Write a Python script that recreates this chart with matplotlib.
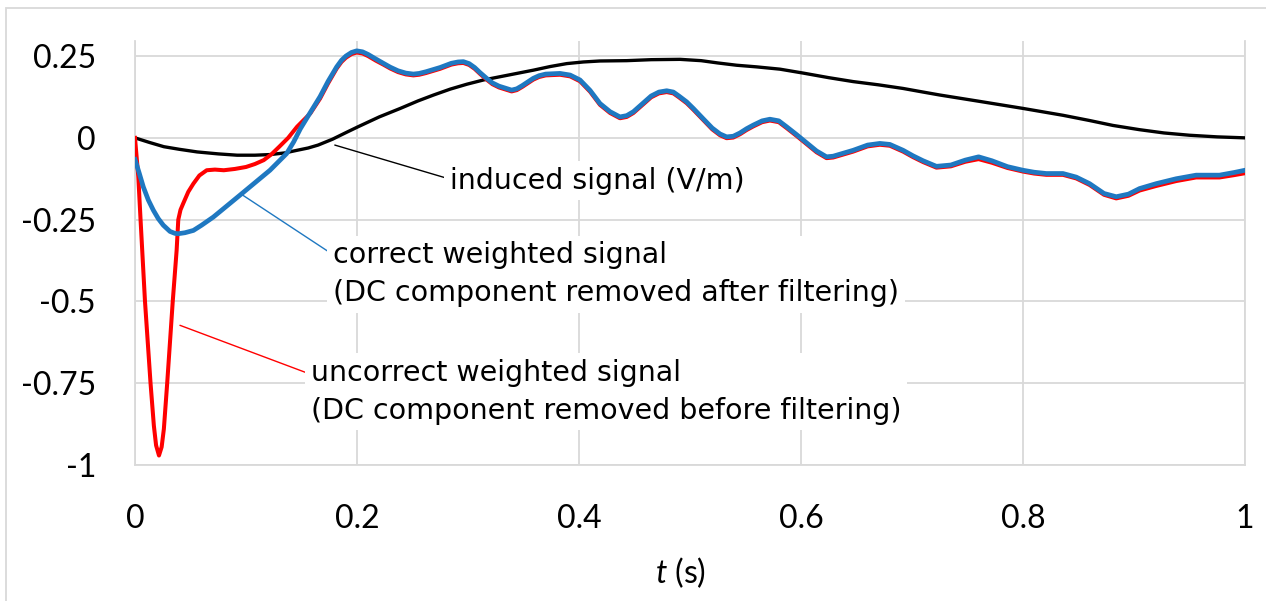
import matplotlib
matplotlib.use("Agg")
import matplotlib.pyplot as plt
from matplotlib.patches import Rectangle
from matplotlib.font_manager import FontProperties

plt.rcParams['mathtext.fontset'] = 'custom'
plt.rcParams['mathtext.it'] = 'Lato:italic'
plt.rcParams['mathtext.rm'] = 'Lato'

# induced signal (V/m)
t_ind = [0, 0.013, 0.026, 0.04, 0.056, 0.075, 0.092, 0.108, 0.122, 0.135, 0.146,
         0.156, 0.165, 0.178, 0.19, 0.201, 0.22, 0.239, 0.255, 0.269, 0.284, 0.299,
         0.314, 0.329, 0.344, 0.359, 0.374, 0.389, 0.404, 0.419, 0.443, 0.465, 0.491,
         0.51, 0.525, 0.542, 0.56, 0.581, 0.602, 0.625, 0.647, 0.67, 0.692, 0.71,
         0.725, 0.76, 0.8, 0.836, 0.86, 0.881, 0.905, 0.927, 0.95, 0.975, 1.0]
y_ind = [0, -0.014, -0.027, -0.035, -0.043, -0.049, -0.053, -0.053, -0.051, -0.046, -0.038,
         -0.031, -0.022, -0.004, 0.016, 0.034, 0.064, 0.09, 0.113, 0.131, 0.149, 0.164,
         0.177, 0.187, 0.197, 0.207, 0.218, 0.227, 0.232, 0.235, 0.236, 0.239, 0.24,
         0.236, 0.229, 0.222, 0.217, 0.21, 0.198, 0.184, 0.172, 0.162, 0.151, 0.14,
         0.131, 0.112, 0.09, 0.069, 0.053, 0.038, 0.025, 0.015, 0.008, 0.003, 0.0]

# correct weighted signal (DC component removed after filtering)
t_cor = [0, 0.004, 0.0075, 0.012, 0.0165, 0.021, 0.0255, 0.0315, 0.036, 0.039, 0.045,
         0.0526, 0.06, 0.0706, 0.0946, 0.1216, 0.1366, 0.143, 0.149, 0.158, 0.1667,
         0.174, 0.1817, 0.186, 0.19, 0.195, 0.1997, 0.205, 0.21, 0.217, 0.2237,
         0.23, 0.237, 0.244, 0.2508, 0.256, 0.262, 0.2748, 0.285, 0.291, 0.2958,
         0.301, 0.306, 0.311, 0.3168, 0.322, 0.328, 0.3393, 0.344, 0.349, 0.3588,
         0.364, 0.37, 0.3829, 0.392, 0.4009, 0.41, 0.4189, 0.428, 0.4369, 0.443,
         0.449, 0.457, 0.465, 0.472, 0.479, 0.485, 0.49, 0.497, 0.503, 0.512,
         0.52, 0.527, 0.533, 0.539, 0.545, 0.551, 0.557, 0.565, 0.572, 0.58,
         0.587, 0.596, 0.605, 0.614, 0.623, 0.629, 0.635, 0.647, 0.66, 0.671,
         0.68, 0.692, 0.701, 0.71, 0.722, 0.735, 0.748, 0.76, 0.772, 0.786,
         0.8, 0.81, 0.821, 0.836, 0.848, 0.86, 0.873, 0.884, 0.895, 0.905,
         0.92, 0.938, 0.956, 0.977, 0.99, 1.0]
y_cor = [-0.066, -0.11, -0.15, -0.19, -0.221, -0.247, -0.267, -0.286, -0.292, -0.293, -0.29,
         -0.283, -0.267, -0.242, -0.175, -0.099, -0.048, -0.012, 0.028, 0.078, 0.126,
         0.173, 0.217, 0.237, 0.25, 0.261, 0.266, 0.263, 0.255, 0.241, 0.228,
         0.216, 0.205, 0.198, 0.195, 0.197, 0.202, 0.215, 0.228, 0.232, 0.233,
         0.227, 0.215, 0.199, 0.182, 0.168, 0.158, 0.146, 0.15, 0.16, 0.182,
         0.19, 0.195, 0.197, 0.192, 0.177, 0.145, 0.105, 0.08, 0.064, 0.068,
         0.08, 0.104, 0.128, 0.14, 0.144, 0.14, 0.128, 0.11, 0.09, 0.058,
         0.03, 0.012, 0.003, 0.005, 0.015, 0.028, 0.039, 0.052, 0.057, 0.052,
         0.034, 0.01, -0.015, -0.04, -0.058, -0.056, -0.05, -0.038, -0.022, -0.017,
         -0.02, -0.038, -0.055, -0.07, -0.087, -0.083, -0.068, -0.058, -0.07, -0.088,
         -0.099, -0.105, -0.109, -0.109, -0.12, -0.14, -0.17, -0.18, -0.172, -0.155,
         -0.14, -0.125, -0.114, -0.114, -0.106, -0.099]

# uncorrect weighted signal (DC component removed before filtering)
t_unc = [0, 0.003, 0.005, 0.009, 0.014, 0.017, 0.019, 0.0216, 0.024, 0.026, 0.029,
         0.034, 0.0375, 0.039, 0.041, 0.0435, 0.048, 0.0526, 0.058, 0.0646, 0.072,
         0.08, 0.09, 0.1, 0.108, 0.116, 0.123, 0.13, 0.138, 0.146, 0.158, 0.1667,
         0.174, 0.1817, 0.186, 0.19, 0.195, 0.1997, 0.205, 0.21, 0.217, 0.2237,
         0.23, 0.237, 0.244, 0.2508, 0.256, 0.262, 0.2748, 0.285, 0.291, 0.2958,
         0.301, 0.306, 0.311, 0.3168, 0.322, 0.328, 0.3393, 0.344, 0.349, 0.3588,
         0.364, 0.37, 0.3829, 0.392, 0.4009, 0.41, 0.4189, 0.428, 0.4369, 0.443,
         0.449, 0.457, 0.465, 0.472, 0.479, 0.485, 0.49, 0.497, 0.503, 0.512,
         0.52, 0.527, 0.533, 0.539, 0.545, 0.551, 0.557, 0.565, 0.572, 0.58,
         0.587, 0.596, 0.605, 0.614, 0.623, 0.629, 0.635, 0.647, 0.66, 0.671,
         0.68, 0.692, 0.701, 0.71, 0.722, 0.735, 0.748, 0.76, 0.772, 0.786,
         0.8, 0.81, 0.821, 0.836, 0.848, 0.86, 0.873, 0.884, 0.895, 0.905,
         0.92, 0.938, 0.956, 0.977, 0.99, 1.0]
y_unc = [0, -0.12, -0.25, -0.5, -0.75, -0.88, -0.94, -0.971, -0.945, -0.89, -0.75,
         -0.5, -0.344, -0.25, -0.22, -0.2, -0.165, -0.14, -0.115, -0.099, -0.097,
         -0.099, -0.095, -0.089, -0.08, -0.068, -0.05, -0.027, 0.0, 0.034, 0.075, 0.12,
         0.167, 0.212, 0.232, 0.245, 0.256, 0.261, 0.258, 0.25, 0.236, 0.224,
         0.212, 0.201, 0.194, 0.191, 0.193, 0.198, 0.211, 0.224, 0.228, 0.229,
         0.223, 0.211, 0.195, 0.178, 0.164, 0.154, 0.142, 0.146, 0.156, 0.178,
         0.186, 0.191, 0.193, 0.188, 0.173, 0.141, 0.101, 0.076, 0.06, 0.064,
         0.076, 0.1, 0.124, 0.136, 0.14, 0.136, 0.124, 0.106, 0.086, 0.054,
         0.026, 0.008, -0.001, 0.001, 0.011, 0.024, 0.035, 0.048, 0.053, 0.048,
         0.03, 0.006, -0.019, -0.044, -0.062, -0.06, -0.054, -0.042, -0.026, -0.021,
         -0.024, -0.042, -0.059, -0.074, -0.091, -0.087, -0.073, -0.065, -0.076, -0.092,
         -0.103, -0.109, -0.113, -0.113, -0.124, -0.144, -0.174, -0.185, -0.177, -0.161,
         -0.147, -0.132, -0.121, -0.121, -0.114, -0.108]

xticks = [0, 0.2, 0.4, 0.6, 0.8, 1.0]
xticklabels = ['0', '0.2', '0.4', '0.6', '0.8', '1']
yticks = [-1, -0.75, -0.5, -0.25, 0, 0.25]
yticklabels = ['-1', '-0.75', '-0.5', '-0.25', '0', '0.25']

fig = plt.figure(figsize=(12.66, 6.01), dpi=100)
ax = fig.add_axes([135/1266, 1-465/601, (1245-135)/1266, (465-40.7)/601])

grid_c = '#d9d9d9'
ax.plot(t_ind, y_ind, color='black', lw=2.4, solid_joinstyle='round', zorder=3)
ax.plot(t_unc, y_unc, color='#ff0000', lw=2.9, solid_joinstyle='round', zorder=4)
ax.plot(t_cor, y_cor, color='#1f78c1', lw=3.4, solid_joinstyle='round', zorder=5)

ax.set_xlim(0, 1)
ax.set_ylim(-1, 0.297)
ax.set_xticks(xticks)
ax.set_xticklabels(xticklabels)
ax.set_yticks(yticks)
ax.set_yticklabels(yticklabels)
ax.tick_params(length=0, labelsize=23)
ax.tick_params(axis='x', pad=28)
ax.tick_params(axis='y', pad=28)
for lab in ax.get_xticklabels() + ax.get_yticklabels():
    lab.set_fontfamily('Lato')
ax.grid(True, color=grid_c, lw=1.3, zorder=0)
ax.set_axisbelow(True)
ax.spines['top'].set_visible(False)
for s in ['left', 'bottom', 'right']:
    ax.spines[s].set_color(grid_c)
    ax.spines[s].set_linewidth(1.3)

box = dict(boxstyle='square,pad=0.2', fc='white', ec='none')
fp = FontProperties(family='DejaVu Sans', size=20.5)

ax.annotate('induced signal (V/m)', xy=(0.180, -0.022), xytext=(0.2838, -0.155),
            ha='left', va='baseline', fontproperties=fp, bbox=box, zorder=6,
            arrowprops=dict(arrowstyle='-', color='black', lw=1.0, shrinkA=0, shrinkB=0,
                            relpos=(0, 0.55)))
ax.annotate('correct weighted signal\n(DC component removed after filtering)',
            xy=(0.0961, -0.173), xytext=(0.1784, -0.4998),
            ha='left', va='baseline', fontproperties=fp, bbox=box, zorder=6,
            linespacing=1.45,
            arrowprops=dict(arrowstyle='-', color='#1f78c1', lw=1.0, shrinkA=0, shrinkB=0,
                            relpos=(0, 0.8)))
ax.annotate('uncorrect weighted signal\n(DC component removed before filtering)',
            xy=(0.0405, -0.573), xytext=(0.1586, -0.858),
            ha='left', va='baseline', fontproperties=fp, bbox=box, zorder=6,
            linespacing=1.45,
            arrowprops=dict(arrowstyle='-', color='#ff0000', lw=1.0, shrinkA=0, shrinkB=0,
                            relpos=(0, 0.76)))

fig.text(681/1266, 1-573/601, '$t$ (s)', ha='center', va='center', fontsize=23,
         family='Lato')

fig.patches.append(Rectangle((6/1266, -0.2), 1.2, 1.2 - 8/601, transform=fig.transFigure,
                             fill=False, ec=grid_c, lw=1.3))

fig.savefig('out.png', dpi=100)
